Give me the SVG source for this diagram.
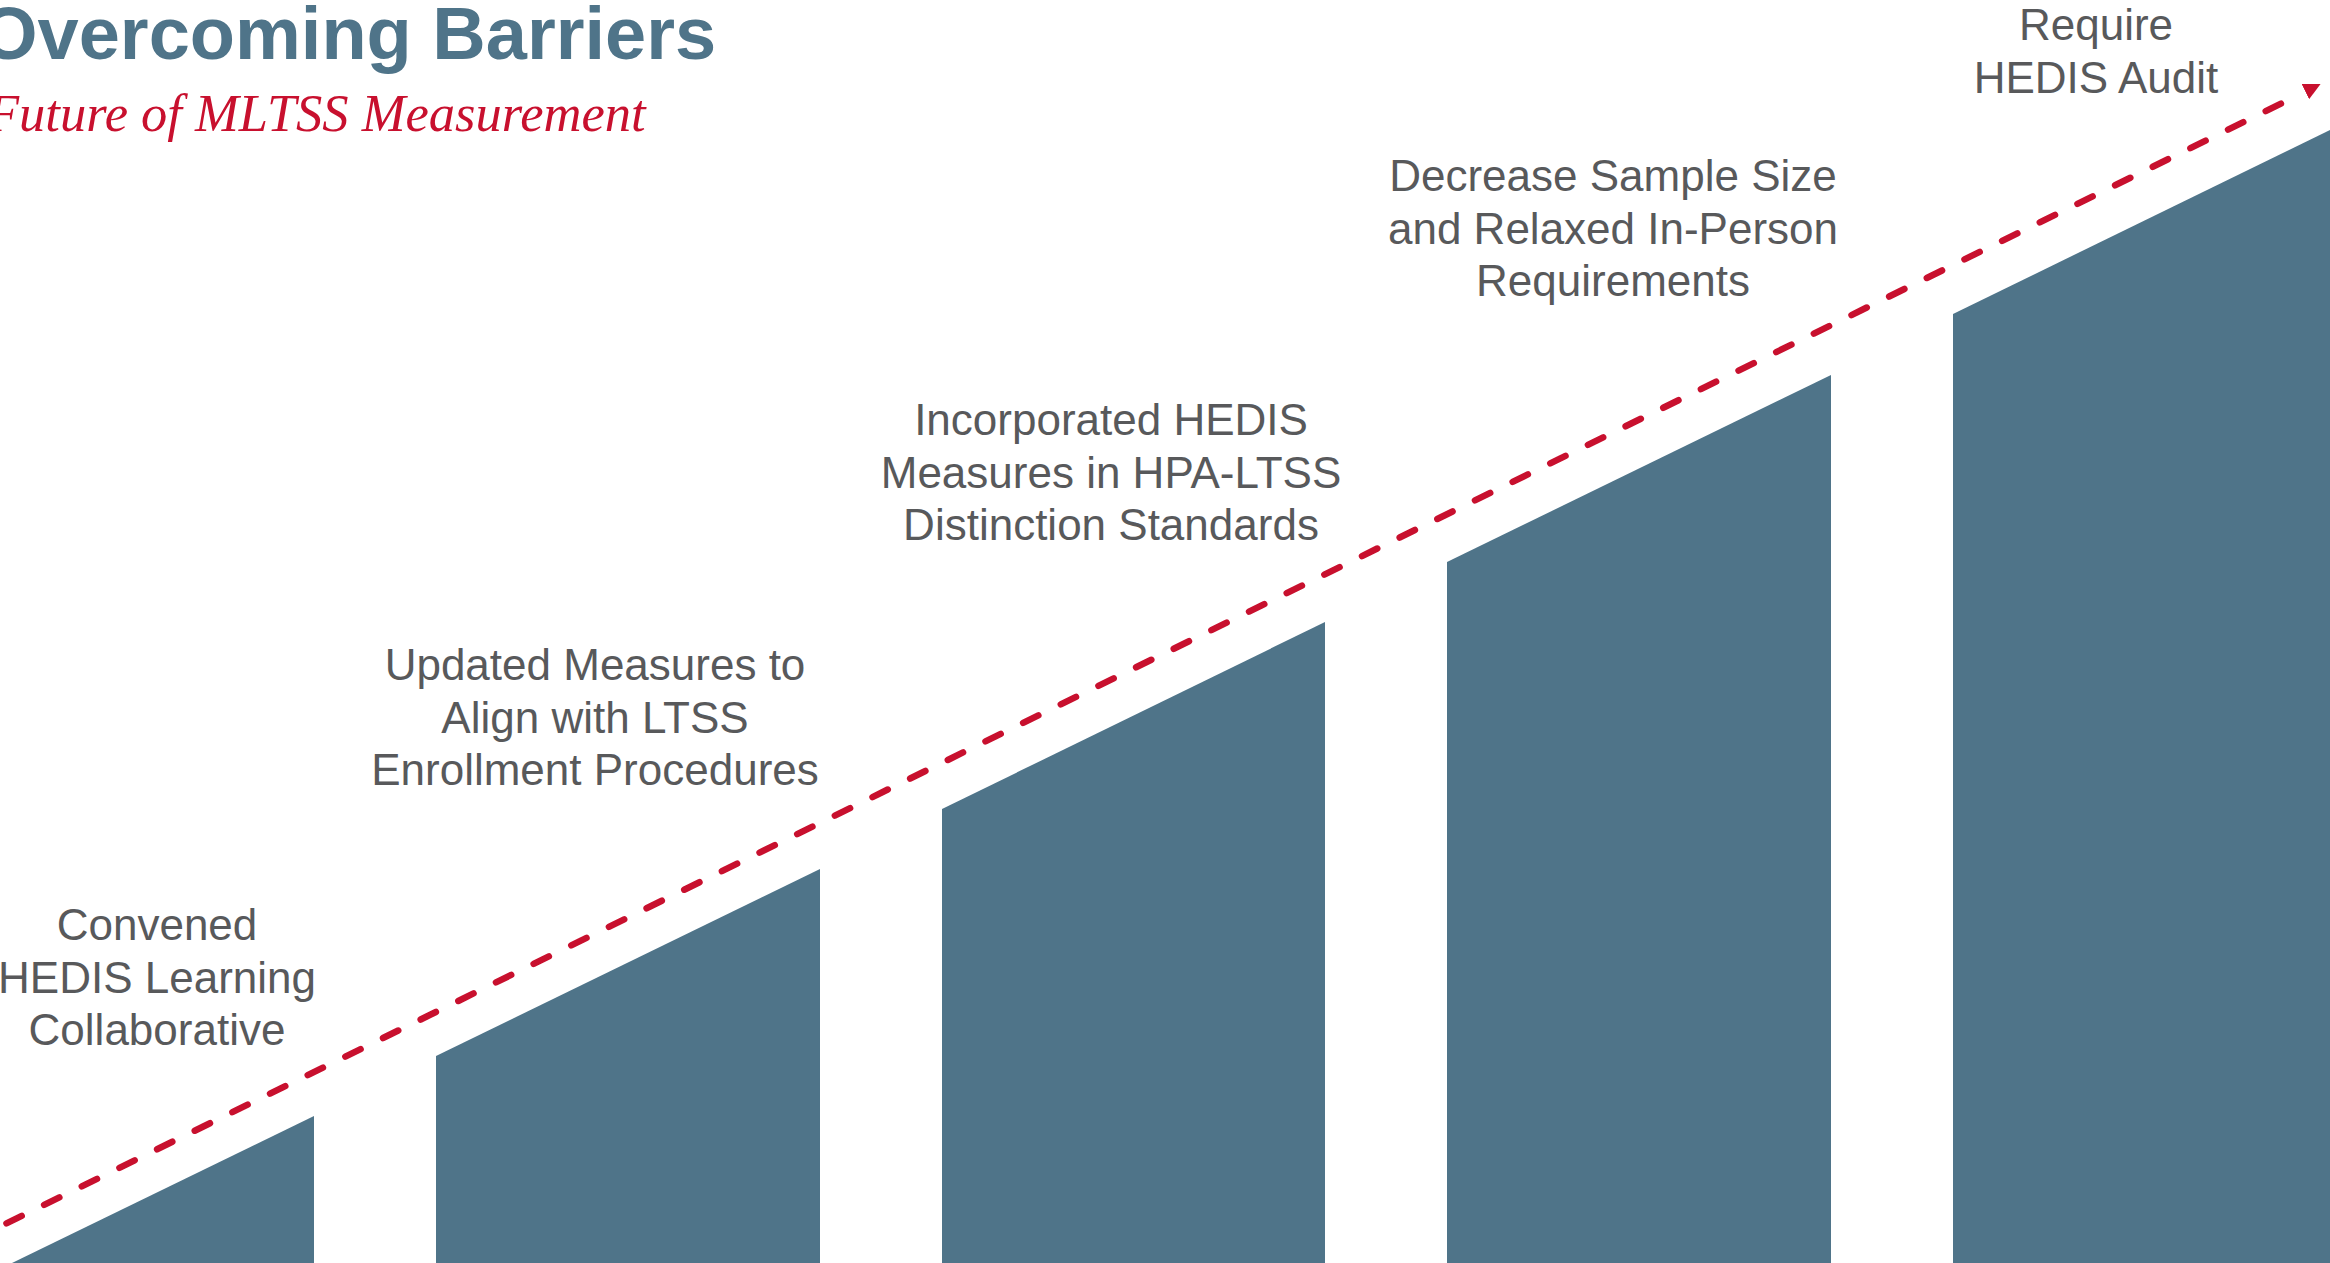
<svg xmlns="http://www.w3.org/2000/svg" width="2330" height="1263" viewBox="0 0 2330 1263">
<defs>
<style>
.bar{fill:#4F7489;}
.lbl{font-family:"Liberation Sans",Arial,sans-serif;font-size:44px;fill:#58595B;text-anchor:middle;}
.title{font-family:"Liberation Sans",Arial,sans-serif;font-size:74px;font-weight:bold;fill:#4F7489;}
.sub{font-family:"Liberation Serif","Times New Roman",serif;font-size:52.5px;font-style:italic;fill:#C8102E;}
.trend{fill:none;stroke:#C8102E;stroke-width:6.5;stroke-linecap:round;stroke-dasharray:17 24.97;stroke-dashoffset:34.77;}
</style>
<marker id="arrow" viewBox="0 0 17 17" refX="-4.5" refY="8.5" markerWidth="17" markerHeight="17" markerUnits="userSpaceOnUse" orient="auto">
<path d="M0,0 L17,8.5 L0,17 Z" fill="#C8102E"/>
</marker>
</defs>
<rect width="2330" height="1263" fill="#FFFFFF"/>
<g id="header">
<text class="title" x="-20" y="59">Overcoming Barriers</text>
<text class="sub" x="-13" y="131">Future of MLTSS Measurement</text>
</g>
<g id="step1">
<polygon class="bar" points="12,1263 314,1116 314,1263"/>
<text class="lbl" x="157" y="940">Convened</text>
<text class="lbl" x="157" y="992.5">HEDIS Learning</text>
<text class="lbl" x="157" y="1045">Collaborative</text>
</g>
<g id="step2">
<polygon class="bar" points="436,1056 820,869 820,1263 436,1263"/>
<text class="lbl" x="595" y="680">Updated Measures to</text>
<text class="lbl" x="595" y="732.5">Align with LTSS</text>
<text class="lbl" x="595" y="785">Enrollment Procedures</text>
</g>
<g id="step3">
<polygon class="bar" points="942,809 1325,622 1325,1263 942,1263"/>
<text class="lbl" x="1111" y="435">Incorporated HEDIS</text>
<text class="lbl" x="1111" y="487.5">Measures in HPA-LTSS</text>
<text class="lbl" x="1111" y="540">Distinction Standards</text>
</g>
<g id="step4">
<polygon class="bar" points="1447,562 1831,375 1831,1263 1447,1263"/>
<text class="lbl" x="1613" y="191">Decrease Sample Size</text>
<text class="lbl" x="1613" y="243.5">and Relaxed In-Person</text>
<text class="lbl" x="1613" y="295.5">Requirements</text>
</g>
<g id="step5">
<polygon class="bar" points="1953,314 2330,130 2330,1263 1953,1263"/>
<text class="lbl" x="2096" y="40">Require</text>
<text class="lbl" x="2096" y="93">HEDIS Audit</text>
</g>
<g id="connectors">
<path class="trend" d="M0,1226.6 L2301.3,93.6" marker-end="url(#arrow)"/>
</g>
</svg>
